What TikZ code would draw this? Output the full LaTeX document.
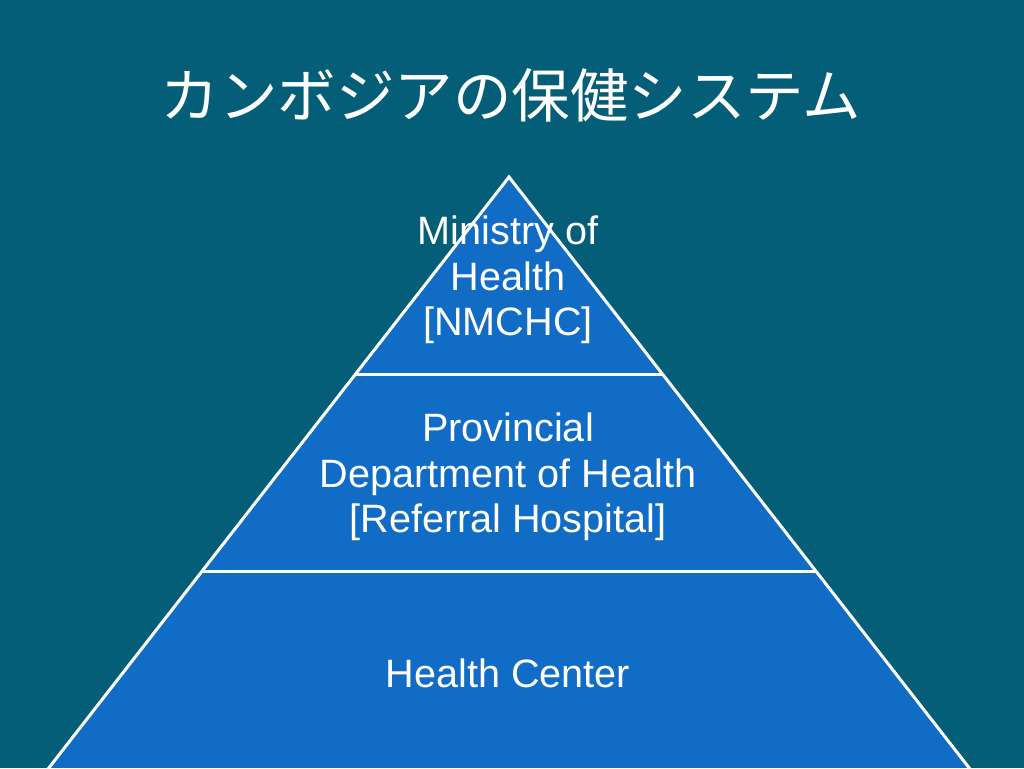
\documentclass[tikz,border=0pt]{standalone}
\usepackage{fontspec}
\setmainfont{Liberation Sans}
\newfontfamily\cjk{Noto Sans CJK JP}
\definecolor{bgteal}{RGB}{5,94,120}
\definecolor{pyblue}{RGB}{17,108,198}
\begin{document}
\begin{tikzpicture}[x=1pt,y=-1pt,
  lbl/.style={text=white,align=center,font=\fontsize{39.6}{45.5}\selectfont,inner sep=0pt},
  edge/.style={draw=white,line width=3pt}]
\fill[bgteal] (0,0) rectangle (1024,768);
\useasboundingbox (0,0) rectangle (1024,768);
\node[text=white,font=\cjk\fontsize{58.5}{66}\selectfont,inner sep=0pt] (title) at (511,95) {カンボジアの保健システム};
\coordinate (apex) at (509,177);
\coordinate (bl) at (48,769);
\coordinate (br) at (970,769);
\coordinate (l1) at (355.6,374);
\coordinate (r1) at (662.0,374);
\coordinate (l2) at (202.1,571);
\coordinate (r2) at (815.0,571);
\fill[pyblue] (apex) -- (br) -- (bl) -- cycle;
\draw[edge,line join=miter] (bl) -- (apex) -- (br);
\draw[edge] (bl) -- (br);
\draw[edge] (l1) -- (r1);
\draw[edge] (l2) -- (r2);
\node[lbl] (moh) at (508,280) {Ministry of\\Health\\{[NMCHC]}};
\node[lbl] (pdh) at (508,477) {Provincial\\Department of Health\\{[Referral Hospital]}};
\node[lbl] (hc) at (508,673) {Health Center};
\end{tikzpicture}
\end{document}
